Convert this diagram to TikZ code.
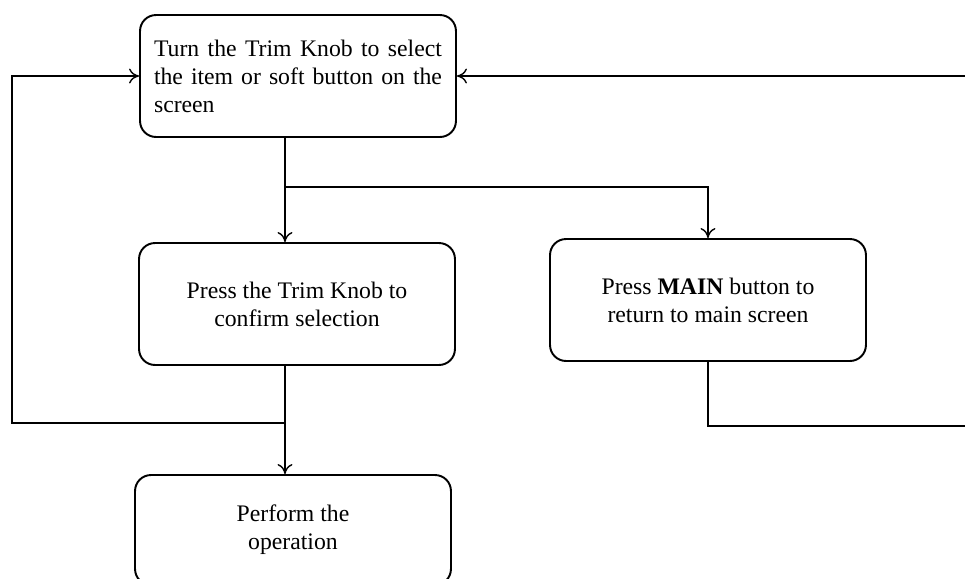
\documentclass[tikz,border=0pt]{standalone}
\usepackage{fontspec}
\setmainfont{Liberation Serif}
\usepackage{tikz}
\usetikzlibrary{arrows.meta,positioning}

\begin{document}
\begin{tikzpicture}[
  x=0.02cm, y=-0.02cm,
  stepbox/.style={draw, line width=1.1pt, rounded corners=0.32cm, minimum width=6.32cm, minimum height=2.44cm, inner sep=0pt, align=center, font=\fontsize{13.5}{16}\selectfont},
  link/.style={line width=0.8pt},
  arrow/.style={link, -{To[length=2mm,width=3mm]}}
]
\useasboundingbox (0,0) rectangle (965,579);
\clip (0,0) rectangle (965,579);
\node[stepbox, text width=5.76cm, align=justify] (turn) at (298,76) {Turn the Trim Knob to select\linebreak the item or soft button on the\linebreak screen};
\node[stepbox] (press) at (297,304) {Press the Trim Knob to\\confirm selection};
\node[stepbox] (mainbox) at (708,300) {Press \textbf{MAIN} button to\\return to main screen};
\node[stepbox, minimum height=2.2cm] (perform) at (293,530) {Perform the\\operation};
\coordinate (split) at (285,187);
\coordinate (join) at (285,423);
\coordinate (lturn) at (12,423);
\coordinate (rturn) at (1000,426);
\draw[link] (turn.south -| split) -- (split);
\draw[arrow] (split) -- (press.north -| split);
\draw[arrow] (split) -| (mainbox.north);
\draw[link] (press.south -| join) -- (join);
\draw[arrow] (join) -- (perform.north -| join);
\draw[arrow] (join) -- (lturn) |- (turn.west);
\draw[arrow] (mainbox.south) |- (rturn) |- (turn.east);
\end{tikzpicture}
\end{document}
